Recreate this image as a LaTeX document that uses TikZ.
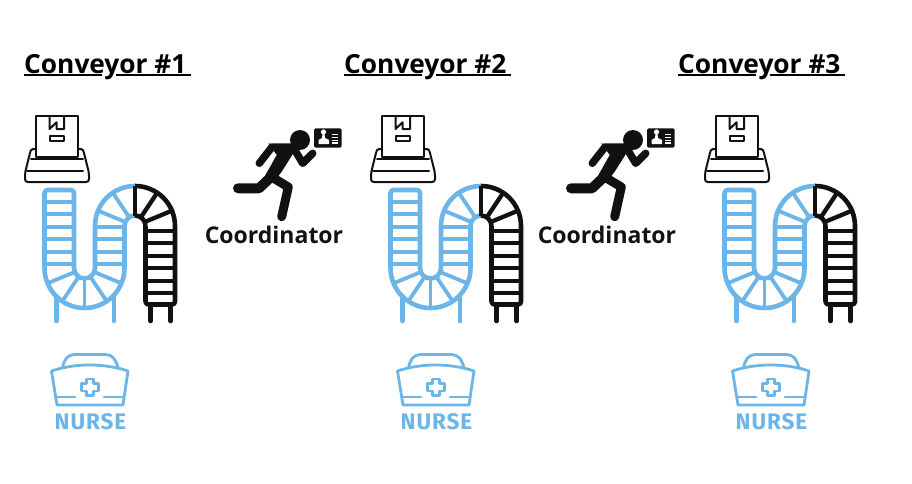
\documentclass[tikz,border=0pt]{standalone}
\usepackage{fontspec}
\setmainfont{Open Sans}
\newfontfamily\capfont[LetterSpace=4]{Fira Sans}
\definecolor{beltblue}{HTML}{6BB5E9}
\definecolor{inkblack}{HTML}{111111}
\tikzset{
  belt/.style={line width=4.6pt,line join=round,line cap=round},
  rung/.style={line width=3.8pt},
  iconline/.style={line width=2pt,draw=inkblack,line join=round,line cap=round},
  capline/.style={line width=2.8pt,draw=beltblue,line join=round,line cap=round},
  limb/.style={line width=9pt,draw=inkblack,line join=round,line cap=round},
  armlimb/.style={line width=7.5pt,draw=inkblack,line join=round,line cap=round},
  titletext/.style={font=\fontsize{26.3}{26}\selectfont\bfseries,anchor=base west,inner sep=0pt,text=black},
  coordtext/.style={font=\fontsize{23}{23}\selectfont\bfseries,inner sep=0pt,text=inkblack},
  nursetext/.style={font=\capfont\fontsize{22.5}{22}\selectfont\bfseries,inner sep=0pt,text=beltblue},
  % scanner with parcel
  pics/scanner/.style={code={
    \draw[iconline] (36,116) rectangle (78,156.7);
    \draw[iconline] (49.5,116) -- (49.5,129) -- (56.5,122.3) -- (56.5,129) -- (64,129) -- (64,116);
    \draw[iconline] (49.5,135.7) rectangle (64,140.7);
    \draw[iconline] (36,149) -- (33,149) .. controls (31,149) and (30.5,151) .. (30,153) -- (25.5,171)
      .. controls (25,173) and (25,174) .. (25,176) -- (25,179) .. controls (25,181) and (26,182) .. (28,182)
      -- (86,182) .. controls (88,182) and (89,181) .. (89,179) -- (89,176)
      .. controls (89,174) and (89,173) .. (88.5,171) -- (84,153) .. controls (83.5,151) and (83,149) .. (81,149) -- (78,149);
    \draw[iconline] (31,159) -- (83,159);
    \draw[iconline] (27,170.5) -- (83,170.5);
  }},
  % conveyor, blue part then black part
  pics/conveyor/.style={code={
    \foreach \y in {201.7,214.3,226.7,239.3,251.7,264.3} \draw[rung,beltblue] (44.5,\y) -- (74,\y);
    \foreach \y in {226.7,239.3,251.7,264.3} \draw[rung,beltblue] (95,\y) -- (124.5,\y);
    \foreach \a in {22.5,56.25,90,123.75,157.5}
      \draw[rung,beltblue] ($(84.5,268)+(\a:10.25)$) -- ($(84.5,268)+(\a:40)$);
    \foreach \a in {202.5,236.25}
      \draw[rung,beltblue] ($(135,226)+(\a:10.5)$) -- ($(135,226)+(\a:40)$);
    \draw[belt,beltblue,rounded corners=3pt] (44.5,268) -- (44.5,190) -- (74,190) -- (74,268);
    \draw[belt,beltblue] (74,268) arc (180:0:10.5) -- (95,226) arc (180:270:40);
    \draw[belt,beltblue] (124.5,268) -- (124.5,226) arc (180:270:10.5);
    \draw[belt,beltblue] (44.5,268) arc (180:0:40);
    \draw[belt,beltblue] (56.7,296.5) -- (56.7,321);
    \draw[belt,beltblue] (114,295) -- (114,321);
    \foreach \y in {230.7,243.3,256,268.3,280.7,293.3} \draw[rung,inkblack,line width=4.3pt] (145.5,\y) -- (175,\y);
    \foreach \a in {270,303.75,337.5}
      \draw[rung,inkblack,line width=4.3pt] ($(135,226)+(\a:10.5)$) -- ($(135,226)+(\a:40)$);
    \draw[belt,inkblack,line cap=butt] (135,186) arc (270:360:40) -- (175,302) [rounded corners=3pt] -- (175,304.5) -- (145.5,304.5) -- (145.5,226);
    \draw[belt,inkblack,line cap=butt] (145.5,226) arc (360:270:10.5);
    \draw[belt,inkblack] (150.7,305) -- (150.7,321);
    \draw[belt,inkblack] (170.7,305) -- (170.7,321);
  }},
  % nurse cap, text comes from the node
  pics/nursecap/.style={code={
    \draw[capline] (62.5,368) .. controls (64,360) and (67,355) .. (74,354.5) -- (106,354.5) .. controls (113,355) and (116,360) .. (118,368);
    \draw[capline] (51.5,371) .. controls (75,363) and (104,363) .. (128,371) -- (123,405) -- (57,405) -- cycle;
    \draw[capline] (57,397) -- (75,397);
    \draw[capline] (104,397) -- (123,397);
    \draw[capline] (86.4,379) -- (93.6,379) -- (93.6,383.7) -- (98.3,383.7) -- (98.3,390.9) -- (93.6,390.9) -- (93.6,395.6)
      -- (86.4,395.6) -- (86.4,390.9) -- (81.7,390.9) -- (81.7,383.7) -- (86.4,383.7) -- cycle;
  }},
  % runner with badge
  pics/runner/.style={code={
    \fill[inkblack] (300,140) circle (10);
    \draw[armlimb] (259.3,163.3) -- (272,147) -- (293,147) -- (302.7,163.3) -- (312.7,153.3);
    \fill[inkblack] (268.3,143.3) -- (293.3,148.3) -- (293.3,153.3) -- (281.7,171.7) -- (273,183) -- (261.7,181.7) -- (276.7,155) -- cycle;
    \draw[limb] (270,176) -- (288.3,187) -- (281.7,216.7);
    \draw[limb,line width=10pt] (270,178) -- (259,188.3) -- (238,188.3);
    \fill[inkblack,rounded corners=1.5pt] (314,128.3) rectangle (341.7,147.7);
    \fill[white] (323.5,132) circle (2.6);
    \fill[white] (322.5,134) -- (324.5,134) -- (325,138) -- (329,140) -- (329,144) -- (318.5,144) -- (318.5,140) -- (322,138) -- cycle;
    \foreach \y in {134.5,137.5,140.5,143} \draw[white,line width=1.2pt] (331.5,\y) -- (338,\y);
  }},
}
\usetikzlibrary{calc}
\begin{document}
\begin{tikzpicture}[x=1pt,y=-1pt]
  \useasboundingbox (0,0) rectangle (912,484);
  % titles with broken underline
  \foreach \name/\tx/\lab in {titleA/24/1,titleB/344/2,titleC/678/3}{
    \node[titletext] (\name) at (\tx,73.3) {Conveyor \#\lab};
    \draw[line width=2pt] (\name.base west)++(0,1.3) -- ++(78,0);
    \draw[line width=2pt] (\name.base west)++(92,1.3) -- ++(74.5,0);
  }
  \foreach \name/\dx in {first/0,second/346,third/680}{
    \pic (\name scanner) at (\dx,0) {scanner};
    \pic (\name belt) at (\dx,0) {conveyor};
  }
  \foreach \name/\dx in {first/0,second/346,third/681}{
    \pic (\name cap) at (\dx,0) {nursecap};
    \node[nursetext] (\name nurse) at (90.5+\dx,421.5) {NURSE};
  }
  \foreach \name/\dx in {one/0,two/333}{
    \pic (\name runner) at (\dx,0) {runner};
    \node[coordtext] (\name label) at (274+\dx,235) {Coordinator};
  }
\end{tikzpicture}
\end{document}
